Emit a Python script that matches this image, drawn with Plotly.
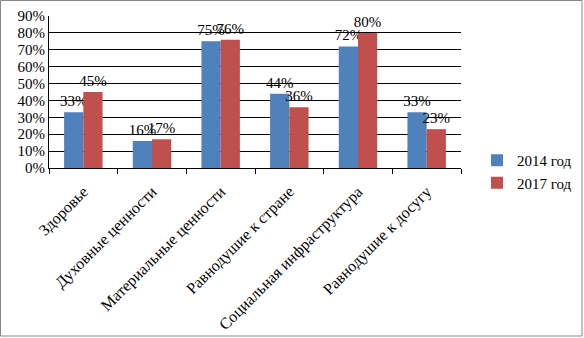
import plotly.graph_objects as go

categories = ["Здоровье", "Духовные ценности", "Материальные ценности",
              "Равнодушие к стране", "Социальная инфраструктура", "Равнодушие к досугу"]
y2014 = [0.33, 0.16, 0.75, 0.44, 0.72, 0.33]
y2017 = [0.45, 0.17, 0.76, 0.36, 0.80, 0.23]
series_names = ["2014 год", "2017 год"]
colors = ["#4F81BD", "#C0504D"]

W, H = 584, 338
ml, mr, mt, mb = 49, 123, 16, 170
pw = W - ml - mr
ph = H - mt - mb

font = "Liberation Serif, Times New Roman, serif"

fig = go.Figure()
for name, vals, col in zip(series_names, [y2014, y2017], colors):
    fig.add_trace(go.Bar(
        x=categories, y=vals, name=name, marker_color=col, marker_line_width=0,
        text=[f"{round(v*100)}%" for v in vals], textposition="outside",
        constraintext="none",
        textfont=dict(family=font, size=15, color="black"), cliponaxis=False,
    ))

def px_x(px):
    return (px - ml) / pw

def px_y(py):
    return (H - mb - py) / ph

fig.update_layout(
    width=W, height=H,
    margin=dict(l=ml, r=mr, t=mt, b=mb, autoexpand=False),
    paper_bgcolor="white", plot_bgcolor="white",
    barmode="group", bargap=0.44, bargroupgap=0,
    font=dict(family=font, size=15, color="black"),
    showlegend=True,
    legend=dict(x=px_x(477), y=px_y(144), xanchor="left", yanchor="top",
                font=dict(family=font, size=15), itemwidth=30,
                tracegroupgap=4, bgcolor="rgba(0,0,0,0)"),
    shapes=[dict(type="rect", xref="paper", yref="paper",
                 x0=px_x(0.5), x1=px_x(582), y0=px_y(336), y1=px_y(0.5),
                 line=dict(color="#878787", width=1), layer="below")],
)
fig.update_xaxes(type="category", tickangle=-45, showline=True, linecolor="black",
                 linewidth=1, ticks="outside", tickson="boundaries", ticklen=5,
                 tickcolor="black", showgrid=False, automargin=False,
                 ticklabelstandoff=7,
                 tickfont=dict(family=font, size=16))
fig.update_yaxes(range=[0, 0.9], dtick=0.1, tickformat=".0%", showline=True,
                 linecolor="black", linewidth=1, showgrid=True, gridcolor="black",
                 gridwidth=1, ticks="", zeroline=False, automargin=False,
                 tickfont=dict(family=font, size=15))

fig.write_html("out.html", config={"displayModeBar": False},
               post_script="document.body.style.margin='0';document.body.style.overflow='hidden';")
